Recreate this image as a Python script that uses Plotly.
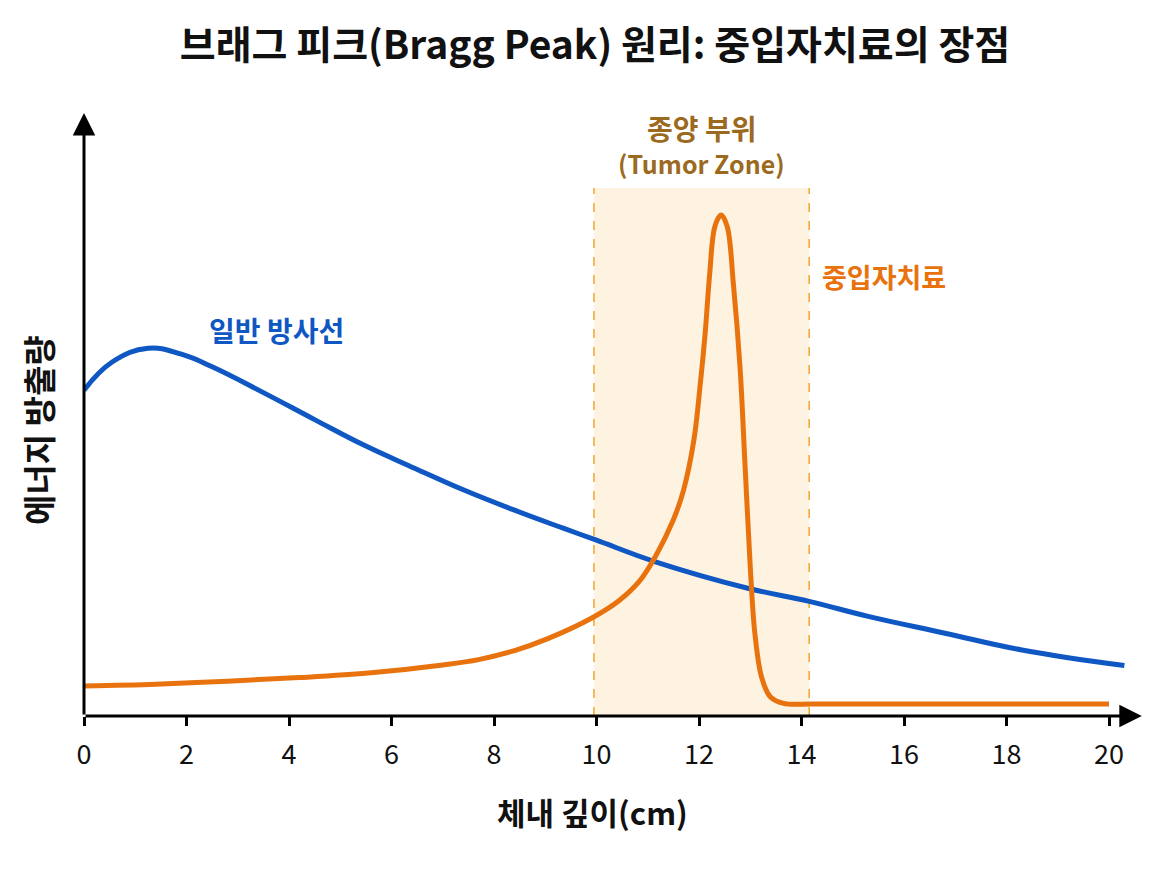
import plotly.graph_objects as go

# ---- data ----
depth_conventional = [0, 0.55, 1.25, 1.9, 2.5, 3.5, 4.5, 5.45, 6.45, 7.4, 8.4, 9.35,
                      10.0, 11.15, 12.95, 14.15, 15.3, 16.8, 18.3, 20.3]
dose_conventional = [54.3, 59.0, 61.3, 60.3, 58.2, 53.9, 49.4, 45.2, 41.3, 37.7, 34.3, 31.3,
                     29.3, 25.7, 21.3, 19.1, 16.6, 13.8, 11.0, 8.4]

depth_heavy_ion = [0, 1.4, 2.8, 4.2, 5.6, 7.0, 7.7, 8.4, 9.05, 9.9, 10.45, 10.85, 11.15,
                   11.5, 11.7, 11.9, 12.02, 12.12, 12.21, 12.31, 12.43, 12.55, 12.67,
                   12.8, 12.9, 13.0, 13.09, 13.22, 13.39, 13.65, 14.2, 15, 17, 20]
dose_heavy_ion = [5.0, 5.3, 5.8, 6.4, 7.2, 8.5, 9.4, 10.9, 12.9, 16.3, 19.3, 22.6, 26.6,
                  32.7, 37.7, 46.0, 54.9, 63.8, 73.8, 81.6, 83.5, 81.6, 72.1,
                  58.2, 41.5, 24.9, 13.8, 6.5, 3.2, 2.1, 2.0, 2.0, 2.0, 2.0]

tumor_zone = [9.95, 14.15]
tumor_zone_top = 88
x_ticks = list(range(0, 21, 2))

title_text = "브래그 피크(Bragg Peak) 원리: 중입자치료의 장점"
x_title = "체내 깊이(cm)"
y_title = "에너지 방출량"
label_conventional = "일반 방사선"
label_heavy_ion = "중입자치료"
label_zone_kr = "종양 부위"
label_zone_en = "(Tumor Zone)"

FONT = "Noto Sans CJK KR, Noto Sans, sans-serif"
BLUE = "#0F57C2"
ORANGE = "#E8730E"
BROWN = "#9C6A1E"

fig = go.Figure()

# tumor zone shading
fig.add_shape(type="rect", xref="x", yref="y",
              x0=tumor_zone[0], x1=tumor_zone[1], y0=0, y1=tumor_zone_top,
              fillcolor="#FEF3E1", line=dict(width=0), layer="below")
for xv in tumor_zone:
    fig.add_shape(type="line", xref="x", yref="y", x0=xv, x1=xv, y0=0, y1=tumor_zone_top,
                  line=dict(color="#F2AA3A", width=1.6, dash="dash"), layer="below")

fig.add_trace(go.Scatter(x=depth_conventional, y=dose_conventional, mode="lines",
                         line=dict(color=BLUE, width=5, shape="spline", smoothing=1.2),
                         showlegend=False, hoverinfo="skip"))
fig.add_trace(go.Scatter(x=depth_heavy_ion, y=dose_heavy_ion, mode="lines",
                         line=dict(color=ORANGE, width=5, shape="spline", smoothing=1.0),
                         showlegend=False, hoverinfo="skip"))

annotations = [
    # axis arrows
    dict(x=20.64, y=0, ax=0, ay=0, xref="x", yref="y", axref="x", ayref="y",
         text="", showarrow=True, arrowhead=2, arrowsize=1.5, arrowwidth=3,
         arrowcolor="#000000", standoff=0, startstandoff=0),
    dict(x=0, y=100.5, ax=0, ay=0, xref="x", yref="y", axref="x", ayref="y",
         text="", showarrow=True, arrowhead=2, arrowsize=1.5, arrowwidth=3,
         arrowcolor="#000000", standoff=0, startstandoff=0),
    # labels
    dict(x=3.75, y=64.3, xref="x", yref="y", text=label_conventional, showarrow=False,
         font=dict(family=FONT, size=28, color=BLUE, weight=700)),
    dict(x=15.6, y=73.2, xref="x", yref="y", text=label_heavy_ion, showarrow=False,
         font=dict(family=FONT, size=27, color=ORANGE, weight=700)),
    dict(x=12.05, y=98.0, xref="x", yref="y", text=label_zone_kr, showarrow=False,
         font=dict(family=FONT, size=28, color=BROWN, weight=700)),
    dict(x=12.05, y=92.2, xref="x", yref="y", text=label_zone_en, showarrow=False,
         font=dict(family=FONT, size=25, color=BROWN, weight=700)),
    # axis titles
    dict(x=(592 - 84) / 1066, y=(716 - 812) / 630, xref="paper", yref="paper",
         text=x_title, showarrow=False, xanchor="center", yanchor="middle",
         font=dict(family=FONT, size=31, color="#111111", weight=700)),
    dict(x=(38 - 84) / 1066, y=(716 - 430) / 630, xref="paper", yref="paper",
         text=y_title, showarrow=False, textangle=-90, xanchor="center", yanchor="middle",
         font=dict(family=FONT, size=33, color="#111111", weight=700)),
]

fig.update_layout(
    width=1158, height=869, autosize=False,
    margin=dict(l=84, r=8, t=86, b=153),
    paper_bgcolor="white", plot_bgcolor="white",
    title=dict(text=title_text, x=595 / 1158, xanchor="center", y=1 - 45 / 869,
               yanchor="middle", font=dict(family=FONT, size=39, color="#111111", weight=700)),
    annotations=annotations,
    xaxis=dict(range=[0, 20.8], showgrid=False, zeroline=False, showline=False,
               tickmode="array", tickvals=x_ticks, ticktext=[str(v) for v in x_ticks],
               ticks="outside", ticklen=9, tickwidth=2.5, tickcolor="#000000",
               ticklabelstandoff=6,
               tickfont=dict(family=FONT, size=27, color="#111111")),
    yaxis=dict(range=[0, 105], showgrid=False, zeroline=False, showline=False,
               showticklabels=False, ticks=""),
)

fig.write_html("out.html")
